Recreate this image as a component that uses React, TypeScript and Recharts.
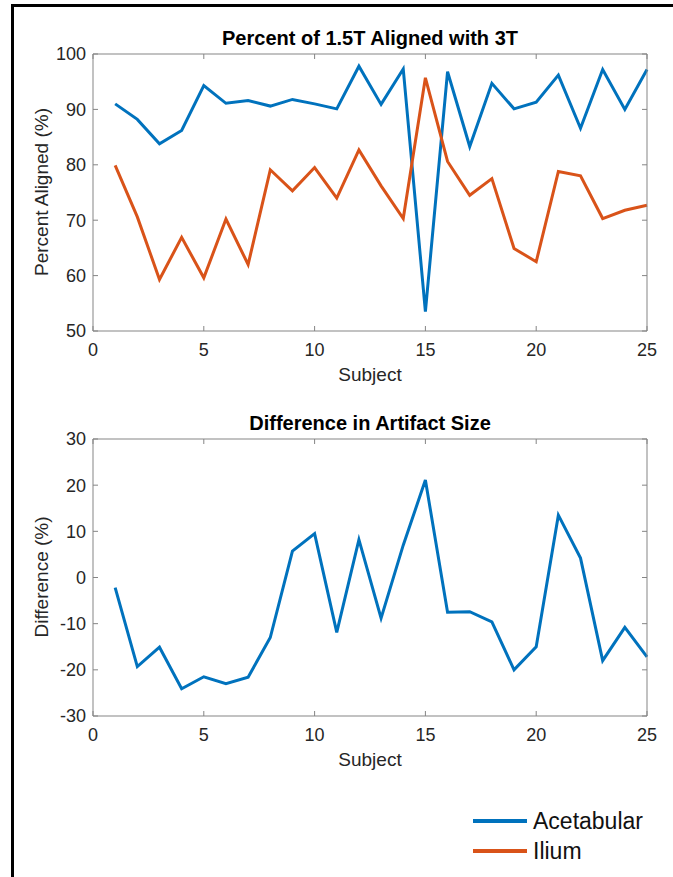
import React from 'react';
import { LineChart, Line, XAxis, YAxis } from 'recharts';

const subjects = [1, 2, 3, 4, 5, 6, 7, 8, 9, 10, 11, 12, 13, 14, 15, 16, 17, 18, 19, 20, 21, 22, 23, 24, 25];
const acetabularAligned = [91.0, 88.2, 83.8, 86.2, 94.3, 91.1, 91.6, 90.6, 91.8, 91.0, 90.1, 97.8, 90.9, 97.3, 53.5, 96.8, 83.3, 94.7, 90.1, 91.3, 96.2, 86.6, 97.2, 90.0, 97.2];
const iliumAligned = [79.9, 70.6, 59.3, 66.9, 59.6, 70.2, 62.0, 79.1, 75.3, 79.5, 74.0, 82.7, 76.2, 70.3, 95.7, 80.6, 74.5, 77.5, 64.9, 62.5, 78.8, 78.0, 70.3, 71.8, 72.7];
const artifactDiff = [-2.2, -19.3, -15.1, -24.1, -21.5, -23.0, -21.6, -13.0, 5.7, 9.5, -11.9, 8.2, -8.8, 7.0, 21.1, -7.5, -7.4, -9.6, -20.0, -15.0, 13.5, 4.2, -18.0, -10.8, -17.2];

const xTicks = [0, 5, 10, 15, 20, 25];
const topYTicks = [50, 60, 70, 80, 90, 100];
const bottomYTicks = [-30, -20, -10, 0, 10, 20, 30];

const BLUE = '#0072BD';
const ORANGE = '#D95319';
const AXIS = '#858585';
const TEXT = '#262626';
const FONT = '"Liberation Sans", Arial, Helvetica, sans-serif';

const alignedData = subjects.map((s, i) => ({ s, acetabular: acetabularAligned[i], ilium: iliumAligned[i] }));
const diffData = subjects.map((s, i) => ({ s, diff: artifactDiff[i] }));

const tickStyle = { fontSize: 18, fill: TEXT, fontFamily: FONT };

// MATLAB-style boxed axes: labels outside, tick marks pointing inward on all four sides
function Panel({ data, yDomain, yTicks, title, ylabel, children }: any) {
  return (
    <div style={{ position: 'relative', width: 673, height: 386 }}>
      <div style={{ position: 'absolute', left: 93, width: 554, top: 27, textAlign: 'center', fontFamily: FONT, fontWeight: 'bold', fontSize: 20, lineHeight: '22px', color: '#000' }}>
        {title}
      </div>
      <div style={{ position: 'absolute', left: 93, width: 554, top: 364, textAlign: 'center', fontFamily: FONT, fontSize: 19, lineHeight: '22px', color: TEXT }}>
        Subject
      </div>
      <div style={{ position: 'absolute', left: 42, top: 192, transform: 'translate(-50%, -50%) rotate(-90deg)', whiteSpace: 'nowrap', fontFamily: FONT, fontSize: 19, color: TEXT }}>
        {ylabel}
      </div>
      <LineChart width={673} height={400} data={data} margin={{ top: 53, right: 25, bottom: 0, left: 0 }} style={{ position: 'absolute', left: 0, top: 0 }}>
        <XAxis dataKey="s" type="number" domain={[0, 25]} ticks={xTicks} interval={0} height={69}
          axisLine={{ stroke: AXIS }} tickLine={{ stroke: AXIS }} tickSize={-5} tickMargin={17} tick={tickStyle} />
        <XAxis xAxisId="top" orientation="top" dataKey="s" type="number" domain={[0, 25]} ticks={xTicks} interval={0} height={1}
          axisLine={{ stroke: AXIS }} tickLine={{ stroke: AXIS }} tickSize={-5} tickFormatter={() => ''} />
        <YAxis type="number" domain={yDomain} ticks={yTicks} interval={0} width={93}
          axisLine={{ stroke: AXIS }} tickLine={{ stroke: AXIS }} tickSize={-5} tickMargin={12} tick={tickStyle} />
        <YAxis yAxisId="right" orientation="right" type="number" domain={yDomain} ticks={yTicks} interval={0} width={1}
          axisLine={{ stroke: AXIS }} tickLine={{ stroke: AXIS }} tickSize={-5} tickFormatter={() => ''} />
        {children}
      </LineChart>
    </div>
  );
}

export default function App() {
  return (
    <div style={{ position: 'absolute', left: 0, top: 0, width: 673, height: 877, background: '#fff', overflow: 'hidden' }}>
      <div style={{ position: 'absolute', left: 11, top: 4, width: 662, height: 873, borderTop: '3px solid #000', borderLeft: '3px solid #000' }} />
      <div style={{ position: 'absolute', left: 0, top: 0 }}>
        <Panel data={alignedData} yDomain={[50, 100]} yTicks={topYTicks} title="Percent of 1.5T Aligned with 3T" ylabel="Percent Aligned (%)">
          <Line dataKey="acetabular" stroke={BLUE} strokeWidth={3} dot={false} isAnimationActive={false} />
          <Line dataKey="ilium" stroke={ORANGE} strokeWidth={3} dot={false} isAnimationActive={false} />
          <Line xAxisId="top" yAxisId="right" dataKey="acetabular" stroke="none" strokeWidth={0} dot={false} legendType="none" isAnimationActive={false} />
        </Panel>
      </div>
      <div style={{ position: 'absolute', left: 0, top: 385 }}>
        <Panel data={diffData} yDomain={[-30, 30]} yTicks={bottomYTicks} title="Difference in Artifact Size" ylabel="Difference (%)">
          <Line dataKey="diff" stroke={BLUE} strokeWidth={3} dot={false} isAnimationActive={false} />
          <Line xAxisId="top" yAxisId="right" dataKey="diff" stroke="none" strokeWidth={0} dot={false} legendType="none" isAnimationActive={false} />
        </Panel>
      </div>
      <div style={{ position: 'absolute', left: 473, top: 806, fontFamily: FONT, fontSize: 23, color: '#111' }}>
        {[{ name: 'Acetabular', color: BLUE }, { name: 'Ilium', color: ORANGE }].map((d) => (
          <div key={d.name} style={{ display: 'flex', alignItems: 'center', height: 30 }}>
            <div style={{ width: 54, height: 4, background: d.color, marginRight: 6 }} />
            <span>{d.name}</span>
          </div>
        ))}
      </div>
    </div>
  );
}
